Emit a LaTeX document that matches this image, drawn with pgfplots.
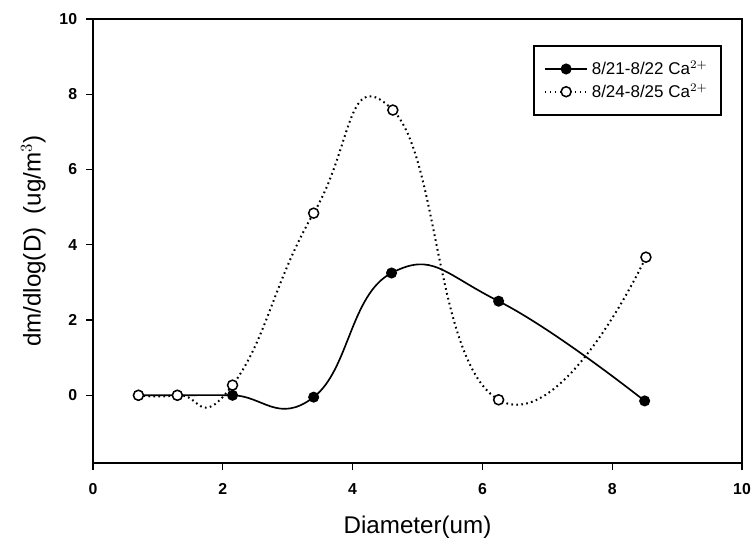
\documentclass[border=0pt]{standalone}
\usepackage{pgfplots}
\pgfplotsset{compat=1.18}
\usepackage{fontspec}
\setmainfont{Liberation Sans}
\begin{document}
\begin{tikzpicture}
\begin{axis}[
  at={(0,0)}, anchor=south west,
  scale only axis,
  width=389.4pt, height=266.4pt,
  xmin=0, xmax=10,
  ymin=-1.8, ymax=10,
  xtick={0,2,4,6,8,10},
  ytick={0,2,4,6,8,10},
  tick align=outside,
  tick pos=left,
  major tick length=4pt,
  axis line style={line width=1pt},
  tick style={line width=0.8pt, black},
  /pgf/number format/assume math mode=true,
  ticklabel style={font=\fontsize{9.5}{10}\selectfont\bfseries},
  xticklabel style={yshift=-5pt},
  yticklabel style={xshift=-2pt},
  xlabel={Diameter(um)},
  ylabel={dm/dlog(D)\ \ (ug/m$^3$)},
  label style={font=\fontsize{14.5}{16}\selectfont},
  xlabel style={at={(axis description cs:0.5,-0.145)}, anchor=center},
  ylabel style={at={(axis description cs:-0.092,0.5)}, anchor=center},
  legend style={at={(0.969,0.941)}, anchor=north east, draw=black,
    line width=0.9pt, font=\fontsize{10.2}{11}\selectfont,
    inner xsep=6pt, inner ysep=7pt, row sep=0pt},
  legend cell align=left,
  legend image code/.code={
    \draw[#1] (0cm,0cm) -- (0.9cm,0cm);
    \draw[#1, only marks] plot coordinates {(0.45cm,0cm)};},
]

% filled series
\addplot[black, line width=1pt, smooth, tension=0.8,
  mark=*, mark size=2.8pt, mark options={solid, fill=black}]
coordinates{
  (0.70, 0.00)
  (1.30, 0.00)
  (2.15, 0.00)
  (3.40,-0.05)
  (4.60, 3.25)
  (6.25, 2.50)
  (8.50,-0.15)
};
\addlegendentry{8/21-8/22 Ca$^{2+}$}

% open series
\addplot[black, line width=1.2pt, dash pattern=on 1pt off 2pt, smooth, tension=0.9,
  mark=*, mark size=3pt, mark options={solid, fill=white, line width=0.9pt}]
coordinates{
  (0.70, 0.00)
  (1.30, 0.00)
  (2.15, 0.27)
  (3.40, 4.84)
  (4.62, 7.58)
  (6.25,-0.12)
  (8.52, 3.67)
};
\addlegendentry{8/24-8/25 Ca$^{2+}$}
\end{axis}
\pgfresetboundingbox
\path (-55.8pt,-49.8pt) rectangle (395.4pt,277.8pt);
\end{tikzpicture}
\end{document}
